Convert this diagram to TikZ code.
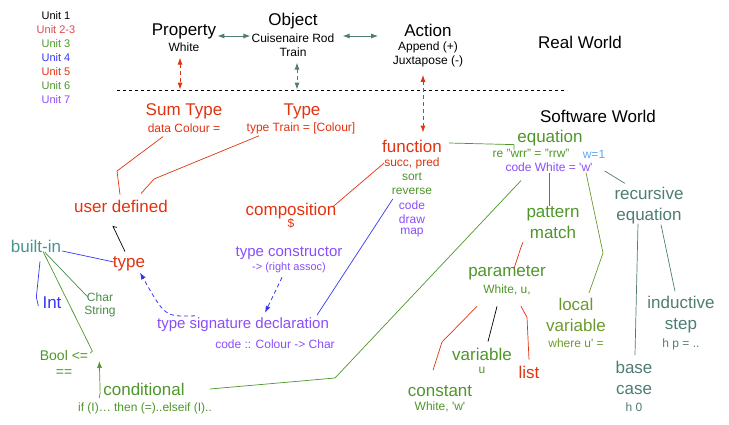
\documentclass[tikz,border=0pt]{standalone}
\usepackage{fontspec}
\setmainfont{Liberation Sans}
\usepackage{tikz}
\usetikzlibrary{calc}
\usetikzlibrary{arrows.meta}
\definecolor{unitred}{HTML}{E2474B}
\definecolor{swred}{HTML}{E1330F}
\definecolor{swgreen}{HTML}{4E962A}
\definecolor{chargreen}{HTML}{4A8A4A}
\definecolor{locgreen}{HTML}{6B9A2C}
\definecolor{swblue}{HTML}{3636F5}
\definecolor{swpurple}{HTML}{8A4DFA}
\definecolor{swteal}{HTML}{4D7D74}
\definecolor{builtin}{HTML}{4A9490}
\definecolor{wblue}{HTML}{5AA6FF}
\tikzstyle{title} = [inner sep=0pt, align=center, font=\fontsize{17}{21}\selectfont]
\tikzstyle{mid} = [inner sep=0pt, font=\fontsize{15}{18}\selectfont]
\tikzstyle{sub} = [inner sep=0pt, font=\fontsize{12}{14}\selectfont]
\tikzstyle{small} = [inner sep=0pt, font=\fontsize{11}{13}\selectfont]
\tikzstyle{link} = [line width=0.7pt]
\tikzstyle{duoarrow} = [line width=0.9pt, {Latex[length=7pt,width=5pt]}-{Latex[length=7pt,width=5pt]}]
\tikzstyle{dashedduo} = [duoarrow, dash pattern=on 4pt off 3pt]
\tikzstyle{dashedarrow} = [line width=0.8pt, dash pattern=on 4pt off 3pt, -{Latex[length=7pt,width=5pt]}]
\begin{document}
\begin{tikzpicture}[x=1pt, y=-1pt]
    \useasboundingbox (0,0) rectangle (729,424);

    % Units
    \node (unit1) [small] at (56,16) {Unit 1};
    \node (unit2) [small, text=unitred] at (56,30) {Unit 2-3};
    \node (unit3) [small, text=swgreen] at (56,44) {Unit 3};
    \node (unit4) [small, text=swblue] at (56,58) {Unit 4};
    \node (unit5) [small, text=swred] at (56,72) {Unit 5};
    \node (unit6) [small, text=swgreen] at (56,86) {Unit 6};
    \node (unit7) [small, text=swpurple] at (56,100) {Unit 7};

    % Real world
    \node (prop) [title] at (184,31) {Property};
    \node (propsub) [sub] at (184,47) {White};
    \node (obj) [title] at (293,21) {Object};
    \node (objsub1) [sub] at (293,38) {Cuisenaire Rod};
    \node (objsub2) [sub] at (293,52) {Train};
    \node (act) [title] at (428,30) {Action};
    \node (actsub1) [sub] at (428,47) {Append (+)};
    \node (actsub2) [sub] at (428,61) {Juxtapose (-)};
    \node (real) [title] at (580,42) {Real World};
    \node (soft) [title] at (598,116) {Software World};

    \draw [duoarrow, swteal] ($(prop.east)+(1,5)$) -- ($(objsub1.west)+(-1,-2)$);
    \draw [duoarrow, swteal] ($(objsub1.east)+(8,-2)$) -- ($(act.west)+(-26,6)$);

    % World divider
    \coordinate (divl) at (117,90);
    \coordinate (divr) at (567,90);
    \draw [line width=0.7pt, dash pattern=on 3pt off 3pt] (divl) -- (divr);

    \draw [dashedduo, swred] ($(propsub.south)+(-4,6)$) -- ($(propsub.south)+(-4,38)$);
    \draw [dashedduo, swteal] ($(objsub2.south)+(4,6)$) -- ($(objsub2.south)+(4,33)$);

    % Types
    \node (sumt) [title, text=swred] at (184,111) {Sum Type};
    \node (sumtsub) [sub, text=swred] at (184,128) {data Colour =};
    \node (typet) [title, text=swred] at (302,111) {Type};
    \node (typetsub) [sub, text=swred] at (301,128) {type Train = [Colour]};
    \node (userdef) [title, text=swred] at (121,206) {user defined};
    \node (typ) [title, text=swred] at (129,264) {type};
    \node (built) [title, text=builtin] at (36,246) {built-in};
    \node (int) [title, text=swblue] at (52,303) {Int};
    \node (char) [sub, text=chargreen] at (100,297) {Char};
    \node (string) [sub, text=chargreen] at (100,311) {String};
    \node (bool) [sub, font=\fontsize{14}{16}\selectfont, text=swgreen] at (64,355) {Bool <=};
    \node (booleq) [sub, font=\fontsize{14}{16}\selectfont, text=swgreen] at (64,373) {==};
    \node (cond) [title, text=swgreen] at (144,389) {conditional};
    \node (condsub) [sub, text=swgreen] at (145,408) {if (I)… then (=)..elseif (I)..};

    \draw [link, swred] ($(sumtsub.south)+(-21,4)$) -- (117,171) -- ($(userdef.north)+(-1,-5)$);
    \draw [link, swred] ($(typetsub.south)+(-42,2)$) -- (154,179) -- ($(userdef.north)+(20,-6)$);
    \draw [link] ($(typ.north)+(-4,-5)$) -- ($(userdef.south)+(-8,14)$) -- ++(4,1);
    \draw [link, swblue] ($(built.east)+(1,5)$) -- ($(typ.west)+(1,-2)$);
    \draw [link, swblue] ($(built.south)+(4,9)$) -- ($(int.west)+(-6,-6)$) -- ($(int.west)+(-4,3)$);
    \draw [link, chargreen] ($(built.south)+(9,0)$) -- ($(char.west)+(1,0)$);
    \draw [link, swgreen] ($(built.south)+(7,-1)$) -- ($(bool.east)+(4,-4)$) -- ++(-2,2);
    \draw [link, swgreen, -{Latex[length=7pt,width=5pt]}] ($(cond.west)+(-4,9)$) -- ++(1,-5) -- ($(bool.east)+(11,6)$);

    % Signatures
    \node (tsd) [mid, text=swpurple] at (243,325) {type signature declaration};
    \node (tsdsub) [sub, text=swpurple] at (275,344) {code :: Colour -> Char};
    \node (tcon) [mid, text=swpurple] at (289,253) {type constructor};
    \node (tconsub) [small, text=swpurple] at (289,268) {-> (right assoc)};
    \node (comp) [title, text=swred] at (291,211) {composition};
    \node (compsub) [sub, text=swred] at (291,223) {\$};

    \draw [dashedarrow, swblue] ($(tsd.north)+(-48,-2)$) .. controls ($(tsd.north)+(-78,-1)$) .. ($(typ.south)+(11,1)$);
    \draw [dashedarrow, swblue] ($(tconsub.south)+(-7,4)$) -- ($(tsd.north)+(22,-5)$);

    % Functions
    \node (func) [title, text=swred] at (412,146) {function};
    \node (fsub1) [sub, text=swred] at (412,163) {succ, pred};
    \node (fsort) [sub, text=swgreen] at (412,177) {sort};
    \node (frev) [sub, text=swgreen] at (412,191) {reverse};
    \node (fcode) [sub, text=swpurple] at (412,205) {code};
    \node (fdraw) [sub, text=swpurple] at (412,219) {draw};
    \node (fmap) [sub, text=swpurple] at (412,233) {map};

    \draw [dashedduo, swred] ($(actsub2.south)+(-5,8)$) -- ($(func.north)+(11,-7)$);
    \draw [link, swred] (fsub1.west) -- ($(comp.east)+(-4,-4)$);
    \draw [link, swblue] ($(fcode.west)+(-6,-6)$) -- ($(tsd.east)+(-12,-10)$);

    % Equations
    \node (eq) [title, text=swgreen] at (550,138) {equation};
    \node (eqsub1) [sub, text=swgreen] at (531,153) {re "wrr" = "rrw"};
    \node (w1) [sub, text=wblue] at (594,154) {w=1};
    \node (eqsub2) [sub, text=swpurple] at (549,167) {code White = \textquotesingle w\textquotesingle};
    \node (patt) [title, text=swgreen] at (553,223) {pattern\\match};
    \node (param) [title, text=swgreen] at (507,273) {parameter};
    \node (paramsub) [sub, text=swgreen] at (507,290) {White, u,};
    \node (const) [title, text=swgreen] at (440,391) {constant};
    \node (constsub) [sub, text=swgreen] at (440,407) {White, \textquotesingle w\textquotesingle};
    \node (var) [title, text=swgreen] at (482,354) {variable};
    \node (varsub) [sub, text=swgreen] at (482,370) {u};
    \node (list) [title, text=swred] at (529,372) {list};
    \node (locvar) [title, text=locgreen] at (576,315) {local\\variable};
    \node (locsub) [sub, text=locgreen] at (576,343) {where u\textquotesingle{} =};
    \node (receq) [title, text=swteal] at (649,206) {recursive\\equation};
    \node (base) [title, text=swteal] at (634,378) {base\\case};
    \node (basesub) [sub, text=swteal] at (634,407) {h 0};
    \node (ind) [title, text=swteal] at (681,315) {inductive\\step};
    \node (indsub) [sub, text=swteal] at (681,344) {h p = ..};

    \draw [link, swgreen] ($(func.east)+(7,-3)$) -- ($(eqsub1.north)+(-17,-4)$) -- ($(eqsub1.north)+(-17,1)$);
    \draw [link, swgreen] ($(cond.east)+(25,0)$) -- (335,378) -- ($(eqsub2.south)+(-28,9)$);
    \draw [link, swteal] ($(eqsub2.south)+(0,1)$) -- ($(patt.north)+(-4,-1)$);
    \draw [link, swred] ($(patt.south)+(-30,3)$) -- ($(patt.south)+(-32,8)$) -- ($(param.north)+(7,3)$);
    \draw [link, swred] ($(paramsub.south)+(-30,11)$) -- (442,342) -- ($(const.north)+(-7,-15)$);
    \draw [link] ($(paramsub.south)+(-10,11)$) -- ($(paramsub.south)+(-12,19)$) -- ($(var.north)+(6,-6)$);
    \draw [link, swred] ($(paramsub.south)+(14,11)$) -- ($(paramsub.south)+(20,22)$) -- ($(list.north)+(0,-6)$);
    \draw [link, locgreen] ($(eqsub2.south)+(37,1)$) -- (603,253) -- ($(locvar.north)+(13,-5)$);
    \draw [link, swteal] ($(eqsub2.east)+(12,4)$) -- ($(receq.north)+(-24,-4)$);
    \draw [link, swteal] ($(receq.south)+(-11,-1)$) -- ($(base.north)+(1,-6)$);
    \draw [link, swteal] ($(receq.south)+(12,0)$) -- ($(ind.north)+(-6,-5)$);
\end{tikzpicture}
\end{document}
